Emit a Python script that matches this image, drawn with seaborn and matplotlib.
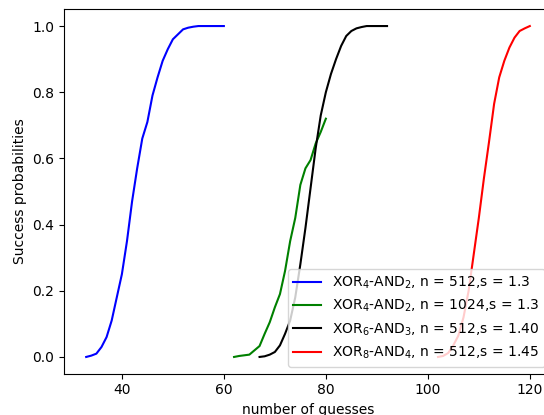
import pandas as pd
import matplotlib
matplotlib.use("Agg")
import matplotlib.pyplot as plt
import seaborn as sns

#%% Data
labels = [
    "XOR$_4$-AND$_2$, n = 512,s = 1.3",
    "XOR$_4$-AND$_2$, n = 1024,s = 1.3",
    "XOR$_6$-AND$_3$, n = 512,s = 1.40",
    "XOR$_8$-AND$_4$, n = 512,s = 1.45",
]
colors = ["blue", "green", "black", "red"]

x_blue = list(range(33, 61))
p_blue = [0.0, 0.004, 0.01, 0.03, 0.06, 0.11, 0.18, 0.25, 0.35, 0.47,
          0.57, 0.66, 0.71, 0.79, 0.845, 0.895, 0.93, 0.96, 0.975, 0.99,
          0.995, 0.998, 1.0, 1.0, 1.0, 1.0, 1.0, 1.0]

x_green = list(range(62, 81))
p_green = [0.0, 0.003, 0.005, 0.007, 0.02, 0.033, 0.07, 0.105, 0.15, 0.19,
           0.26, 0.35, 0.42, 0.52, 0.57, 0.595, 0.645, 0.68, 0.72]

x_black = list(range(67, 93))
p_black = [0.0, 0.002, 0.007, 0.015, 0.035, 0.07, 0.11, 0.18, 0.28, 0.39,
           0.51, 0.63, 0.73, 0.80, 0.855, 0.90, 0.94, 0.97, 0.985, 0.993,
           0.997, 1.0, 1.0, 1.0, 1.0, 1.0]

x_red = list(range(102, 121))
p_red = [0.0, 0.003, 0.012, 0.035, 0.065, 0.12, 0.2, 0.31, 0.42, 0.54,
         0.65, 0.765, 0.845, 0.895, 0.935, 0.965, 0.985, 0.993, 1.0]

#%% Long-form table
frames = []
for lab, xs, ps in zip(labels, [x_blue, x_green, x_black, x_red],
                       [p_blue, p_green, p_black, p_red]):
    frames.append(pd.DataFrame({"guesses": xs, "prob": ps, "curve": lab}))
df = pd.concat(frames, ignore_index=True)

#%% Plot
fig = plt.figure(figsize=(5.44, 4.15), dpi=100)
ax = fig.add_axes([64 / 544, 41.5 / 415, 488 / 544, 364 / 415])

sns.lineplot(data=df, x="guesses", y="prob", hue="curve",
             palette=dict(zip(labels, colors)), estimator=None,
             linewidth=1.5, ax=ax)

sns.move_legend(ax, "lower right", title=None)
ax.set_xlabel("number of guesses")
ax.set_ylabel("Success probabilities")
ax.set_xticks([40, 60, 80, 100, 120])
ax.set_yticks([0.0, 0.2, 0.4, 0.6, 0.8, 1.0])

fig.savefig("out.png", dpi=100)
